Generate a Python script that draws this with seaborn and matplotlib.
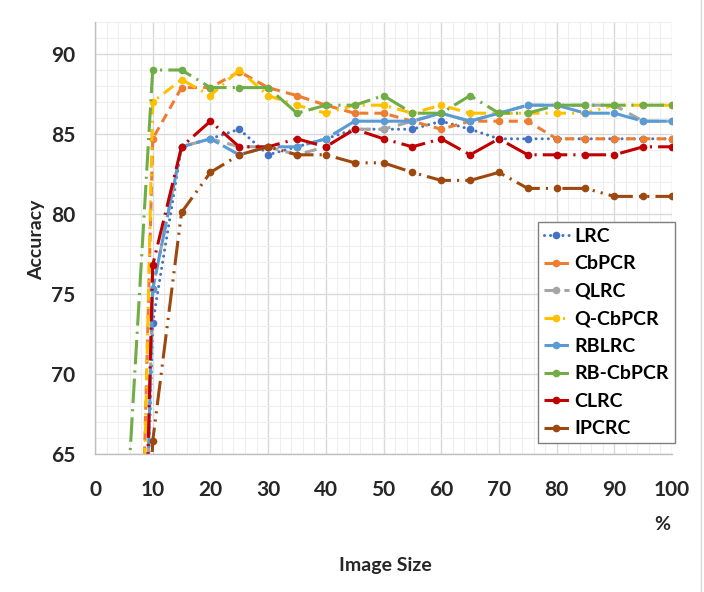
import numpy as np
import pandas as pd
import matplotlib
matplotlib.use("Agg")
import matplotlib.pyplot as plt
import matplotlib.colors as mcolors
from matplotlib.lines import Line2D
from matplotlib.ticker import MultipleLocator, FixedLocator
import seaborn as sns

# ---- data ----
image_size = [5, 10, 15, 20, 25, 30, 35, 40, 45, 50, 55, 60, 65, 70, 75, 80, 85, 90, 95, 100]
methods = ["LRC", "CbPCR", "QLRC", "Q-CbPCR", "RBLRC", "RB-CbPCR", "CLRC", "IPCRC"]

lrc      = [10, 73.2, 84.2, 84.7, 85.3, 83.7, 84.2, 84.7, 85.3, 85.3, 85.3, 85.8, 85.3, 84.7, 84.7, 84.7, 84.7, 84.7, 84.7, 84.7]
cbpcr    = [15, 84.7, 87.9, 87.9, 88.9, 87.9, 87.4, 86.8, 86.3, 86.3, 85.8, 85.3, 85.8, 85.8, 85.8, 84.7, 84.7, 84.7, 84.7, 84.7]
qlrc     = [8, 75.3, 84.2, 84.7, 84.2, 84.2, 83.7, 84.2, 85.3, 85.3, 85.8, 86.3, 85.8, 86.3, 86.8, 86.8, 86.8, 86.8, 85.8, 85.8]
qcbpcr   = [5, 87.0, 88.4, 87.4, 89.0, 87.4, 86.8, 86.3, 86.8, 86.8, 86.3, 86.8, 86.3, 86.3, 86.3, 86.3, 86.3, 86.8, 86.8, 86.8]
rblrc    = [5, 75.3, 84.2, 84.7, 83.7, 84.2, 84.2, 84.7, 85.8, 85.8, 85.8, 86.3, 85.8, 86.3, 86.8, 86.8, 86.3, 86.3, 85.8, 85.8]
rbcbpcr  = [58.5, 89.0, 89.0, 87.9, 87.9, 87.9, 86.3, 86.8, 86.8, 87.4, 86.3, 86.3, 87.4, 86.3, 86.3, 86.8, 86.8, 86.8, 86.8, 86.8]
clrc     = [5, 76.8, 84.2, 85.8, 84.2, 84.2, 84.7, 84.2, 85.3, 84.7, 84.2, 84.7, 83.7, 84.7, 83.7, 83.7, 83.7, 83.7, 84.2, 84.2]
ipcrc    = [20, 65.8, 80.1, 82.6, 83.7, 84.2, 83.7, 83.7, 83.2, 83.2, 82.6, 82.1, 82.1, 82.6, 81.6, 81.6, 81.6, 81.1, 81.1, 81.1]

series = [lrc, cbpcr, qlrc, qcbpcr, rblrc, rbcbpcr, clrc, ipcrc]
colors = ["#4472C4", "#ED7D31", "#A5A5A5", "#FFC000", "#5B9BD5", "#70AD47", "#C00000", "#9E480E"]

df = pd.DataFrame({
    "Image Size": np.tile(image_size, len(methods)),
    "Accuracy": np.concatenate(series),
    "Method": np.repeat(methods, len(image_size)),
})

sns.set_theme(style="white")
plt.rcParams["font.family"] = ["Lato", "DejaVu Sans"]

fig = plt.figure(figsize=(7.04, 5.92), dpi=100)
ax = fig.add_axes([95 / 704, 1 - 454 / 592, 577 / 704, 432 / 592])

dashes = {
    "LRC": (0.01, 2.0),
    "CbPCR": (3, 2),
    "QLRC": (4, 2.5),
    "Q-CbPCR": (4, 2, 0.7, 2),
    "RBLRC": (8, 1.5),
    "RB-CbPCR": (8, 2, 0.7, 2),
    "CLRC": (8, 2, 0.7, 2),
    "IPCRC": (8, 2, 0.7, 2, 0.7, 2),
}

sns.lineplot(data=df, x="Image Size", y="Accuracy", hue="Method", style="Method",
             hue_order=methods, style_order=methods,
             palette=dict(zip(methods, colors)), dashes=dashes,
             markers={m: "o" for m in methods}, markersize=5.5,
             markeredgewidth=0, linewidth=2.2, errorbar=None, sort=False, ax=ax)

lrc_hex = mcolors.to_hex(colors[0]).lower()
for ln in ax.lines:
    if mcolors.to_hex(ln.get_color()).lower() == lrc_hex:
        ln.set_dash_capstyle("round")

ax.set_xlim(0, 100)
ax.set_ylim(65, 92)
ax.xaxis.set_major_locator(MultipleLocator(10))
ax.xaxis.set_minor_locator(MultipleLocator(2))
ax.yaxis.set_major_locator(FixedLocator([65, 70, 75, 80, 85, 90]))
ax.yaxis.set_minor_locator(MultipleLocator(1))
ax.set_axisbelow(True)
ax.grid(which="major", color="#d9d9d9", lw=1)
ax.grid(which="minor", color="#efefef", lw=0.8)
ax.tick_params(which="minor", length=0)
ax.tick_params(axis="x", which="major", direction="out", length=5, width=1, color="#bfbfbf",
               pad=14, labelsize=15, labelcolor="#262626")
ax.tick_params(axis="y", which="major", direction="out", length=5, width=1, color="#bfbfbf",
               pad=9, labelsize=15, labelcolor="#262626")
for lab in ax.get_xticklabels() + ax.get_yticklabels():
    lab.set_fontweight("bold")
for s in ["top", "right"]:
    ax.spines[s].set_visible(False)
for s in ["left", "bottom"]:
    ax.spines[s].set_color("#bfbfbf")
    ax.spines[s].set_linewidth(1)
ax.set_xlabel("")
ax.set_ylabel("")

fig.text(385 / 704, 1 - 565 / 592, "Image Size", ha="center", va="center",
         fontweight="bold", fontsize=14, color="#262626")
fig.text(37 / 704, 1 - 240 / 592, "Accuracy", ha="center", va="center", rotation=90,
         fontweight="bold", fontsize=14, color="#262626")
fig.text(662 / 704, 1 - 524 / 592, "%", ha="center", va="center",
         fontweight="bold", fontsize=14, color="#262626")

old = ax.get_legend()
handles = list(old.legend_handles)
labels = [t.get_text() for t in old.get_texts()]
old.remove()
for h, l in zip(handles, labels):
    if l == "LRC":
        h.set_dash_capstyle("round")
leg = ax.legend(handles, labels, loc="upper right",
                bbox_to_anchor=(675 / 704, 1 - 222 / 592), bbox_transform=fig.transFigure,
                frameon=True, fancybox=False, framealpha=1, edgecolor="#7f7f7f",
                handlelength=1.3, handletextpad=0.3, labelspacing=0.54, borderpad=0.3,
                borderaxespad=0, prop={"weight": "bold", "size": 14})
leg.get_frame().set_linewidth(1)
for t in leg.get_texts():
    t.set_color("#000000")

fig.add_artist(Line2D([701 / 704, 701 / 704], [0, 1], color="#d9d9d9", lw=1,
                      transform=fig.transFigure))

fig.savefig("out.png", dpi=100)
